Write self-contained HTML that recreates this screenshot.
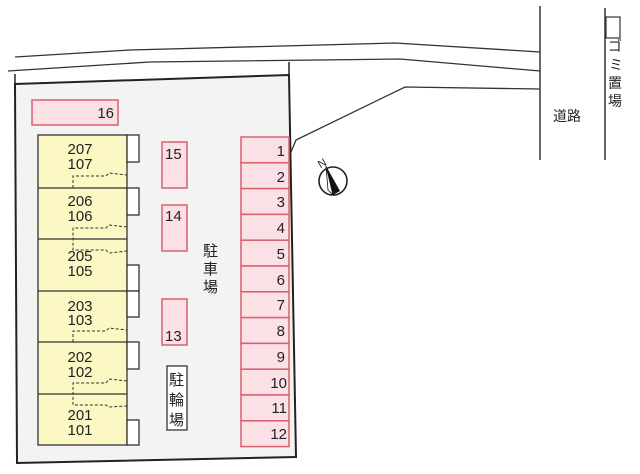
<!DOCTYPE html>
<html><head><meta charset="utf-8"><style>
html,body{margin:0;padding:0;background:#fff;width:640px;height:474px;overflow:hidden}
svg{display:block}
text{font-family:"Liberation Sans","Noto Sans CJK JP",sans-serif;fill:#222}
</style></head><body>
<svg width="640" height="474" viewBox="0 0 640 474" xmlns="http://www.w3.org/2000/svg">
<!-- roads -->
<polyline points="15,57 130,50 395,43 540,52" fill="none" stroke="#333" stroke-width="1.3"/>
<polyline points="8,71 150,62 400,59 540,71" fill="none" stroke="#333" stroke-width="1.3"/>
<polyline points="291,152 296,140 405,87 540,89" fill="none" stroke="#333" stroke-width="1.3"/>
<line x1="540" y1="6" x2="540" y2="160" stroke="#333" stroke-width="1.5"/>
<line x1="605" y1="8" x2="605" y2="160" stroke="#333" stroke-width="1.5"/>
<rect x="606" y="17" width="14" height="21" fill="#fff" stroke="#333" stroke-width="1.2"/>
<text x="553" y="121" font-size="14">道路</text>
<g font-size="14"><text x="608" y="51">ゴ</text><text x="609" y="70">ミ</text><text x="608" y="88">置</text><text x="608" y="106">場</text></g>
<!-- lot -->
<polygon points="15,84 289,75 296,457 17,463" fill="#f3f3f4" stroke="#222" stroke-width="2"/>
<line x1="15" y1="84" x2="15" y2="74" stroke="#222" stroke-width="1.5"/>
<line x1="289" y1="75" x2="289" y2="62" stroke="#222" stroke-width="1.5"/>
<!-- 16 -->
<rect x="32" y="100" width="86" height="25" fill="#fbe0e6" stroke="#d9606f" stroke-width="1.5"/>
<text x="114" y="118" font-size="15" text-anchor="end">16</text>
<!-- buildings -->
<g stroke="#333" stroke-width="1.3">
<rect x="38" y="135" width="89" height="310" fill="#fbf8c4"/>
<line x1="38" y1="188" x2="127" y2="188"/><line x1="38" y1="239" x2="127" y2="239"/>
<line x1="38" y1="291" x2="127" y2="291"/><line x1="38" y1="342" x2="127" y2="342"/>
<line x1="38" y1="394" x2="127" y2="394"/>
<rect x="127" y="135" width="12" height="27" fill="#fff"/>
<rect x="127" y="188" width="12" height="27" fill="#fff"/>
<rect x="127" y="265" width="12" height="26" fill="#fff"/>
<rect x="127" y="291" width="12" height="26" fill="#fff"/>
<rect x="127" y="342" width="12" height="27" fill="#fff"/>
<rect x="127" y="420" width="12" height="25" fill="#fff"/>
</g>
<g stroke="#333" stroke-width="1" stroke-dasharray="3,2" fill="none">
<polyline points="73,188 73,176 106,176 109,173 127,175"/>
<polyline points="127,227 109,225 106,228 73,228 73,250 106,250 109,253 127,251"/>
<polyline points="73,342 73,331 106,331 109,328 127,330"/>
<polyline points="127,381 109,379 106,383 73,383 73,405 106,405 109,407 127,406"/>
</g>
<g font-size="15" text-anchor="middle">
<text x="80" y="154">207</text><text x="80" y="169">107</text>
<text x="80" y="206">206</text><text x="80" y="221">106</text>
<text x="80" y="261">205</text><text x="80" y="276">105</text>
<text x="80" y="311">203</text><text x="80" y="325">103</text>
<text x="80" y="362">202</text><text x="80" y="377">102</text>
<text x="80" y="420">201</text><text x="80" y="435">101</text>
</g>
<!-- small stalls -->
<g fill="#fbe0e6" stroke="#d9606f" stroke-width="1.5">
<rect x="162" y="142" width="25" height="46"/>
<rect x="162" y="205" width="25" height="46"/>
<rect x="162" y="299" width="25" height="46"/>
</g>
<g font-size="15"><text x="165" y="159">15</text><text x="165" y="221">14</text><text x="165" y="341">13</text></g>
<rect x="167" y="366" width="20" height="64" fill="#fff" stroke="#333" stroke-width="1.3"/>
<g font-size="15"><text x="169" y="385">駐</text><text x="169" y="405">輪</text><text x="169" y="425">場</text></g>
<g font-size="15"><text x="203" y="256">駐</text><text x="203" y="274">車</text><text x="203" y="292">場</text></g>
<!-- parking 1-12 -->
<g fill="#fbe0e6" stroke="#d9606f" stroke-width="1.5">
<rect x="241" y="137" width="48" height="25.8"/><rect x="241" y="162.8" width="48" height="25.8"/>
<rect x="241" y="188.6" width="48" height="25.8"/><rect x="241" y="214.4" width="48" height="25.8"/>
<rect x="241" y="240.2" width="48" height="25.8"/><rect x="241" y="266" width="48" height="25.8"/>
<rect x="241" y="291.8" width="48" height="25.8"/><rect x="241" y="317.6" width="48" height="25.8"/>
<rect x="241" y="343.4" width="48" height="25.8"/><rect x="241" y="369.2" width="48" height="25.8"/>
<rect x="241" y="395" width="48" height="25.8"/><rect x="241" y="420.8" width="48" height="25.8"/>
</g>
<g font-size="15" text-anchor="end">
<text x="285" y="156">1</text><text x="285" y="182">2</text><text x="285" y="207">3</text>
<text x="285" y="233">4</text><text x="285" y="259">5</text><text x="285" y="285">6</text>
<text x="285" y="310">7</text><text x="285" y="336">8</text><text x="285" y="362">9</text>
<text x="287" y="388">10</text><text x="287" y="413">11</text><text x="287" y="439">12</text>
</g>
<!-- compass -->
<circle cx="333" cy="181" r="14" fill="#fff" stroke="#222" stroke-width="1.6"/>
<polygon points="326,166 333,195 340,191" fill="#111"/>
<polygon points="326,166 333,195 328,190" fill="#fff" stroke="#111" stroke-width="0.8"/>
<text x="318" y="167" font-size="11" transform="rotate(-30 322 163)">N</text>
</svg>
</body></html>
